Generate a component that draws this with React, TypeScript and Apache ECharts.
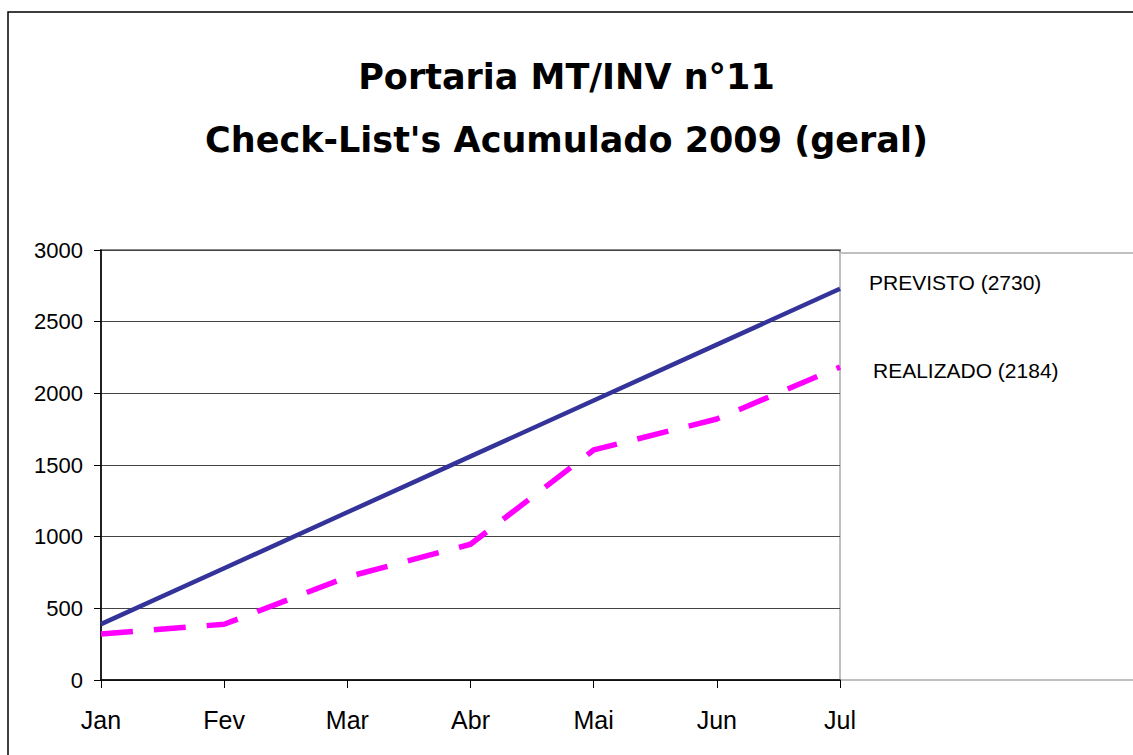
import React, { useEffect, useRef } from "react";
import * as echarts from "echarts";

const months = ["Jan", "Fev", "Mar", "Abr", "Mai", "Jun", "Jul"];
const previsto = [390, 780, 1170, 1560, 1950, 2340, 2730];
const realizado = [321, 389, 719, 947, 1605, 1821, 2184];
const yTicks = { min: 0, max: 3000, interval: 500 };
const titleLines = ["Portaria MT/INV n°11", "Check-List's Acumulado 2009 (geral)"];
const seriesNames = ["PREVISTO", "REALIZADO"];

const sans = "'Liberation Sans', Arial, sans-serif";

export default function App() {
  const ref = useRef<HTMLDivElement>(null);
  useEffect(() => {
    document.body.style.margin = "0";
    const chart = echarts.init(ref.current!, null, { renderer: "svg" });
    const last = (arr: number[]) => arr[arr.length - 1];
    chart.setOption({
      animation: false,
      backgroundColor: "#ffffff",
      title: {
        text: titleLines.join("\n"),
        left: "center",
        top: 40,
        textStyle: {
          fontFamily: "'Comic Sans MS', 'DejaVu Sans', sans-serif",
          fontWeight: "bold",
          fontSize: 35,
          lineHeight: 63,
          color: "#000",
        },
      },
      legend: [
        {
          data: [seriesNames[0]],
          left: 859,
          top: 267,
          icon: "none",
          itemWidth: 0,
          selectedMode: false,
          formatter: (n: string) => `${n} (${last(previsto)})`,
          textStyle: { fontFamily: sans, fontSize: 21, color: "#000" },
        },
        {
          data: [seriesNames[1]],
          left: 863,
          top: 355,
          icon: "none",
          itemWidth: 0,
          selectedMode: false,
          formatter: (n: string) => `${n} (${last(realizado)})`,
          textStyle: { fontFamily: sans, fontSize: 21, color: "#000" },
        },
      ],
      grid: {
        left: 101,
        right: 1133 - 840,
        top: 250,
        bottom: 755 - 680,
        show: true,
        borderColor: "#888",
        borderWidth: 2,
        backgroundColor: "#fff",
      },
      xAxis: {
        type: "category",
        data: months,
        boundaryGap: false,
        axisLine: { show: true, lineStyle: { color: "#000", width: 1.5 } },
        axisTick: { show: true, length: 8, lineStyle: { color: "#000" } },
        axisLabel: {
          fontFamily: sans,
          fontSize: 25,
          color: "#000",
          margin: 27,
        },
        splitLine: { show: false },
      },
      yAxis: {
        type: "value",
        min: yTicks.min,
        max: yTicks.max,
        interval: yTicks.interval,
        axisLine: { show: true, lineStyle: { color: "#000", width: 1.5 } },
        axisTick: { show: true, length: 7, lineStyle: { color: "#000" } },
        axisLabel: {
          fontFamily: sans,
          fontSize: 22,
          color: "#000",
          margin: 18,
          formatter: (v: number) => String(v),
        },
        splitLine: { show: true, lineStyle: { color: "#444", width: 1 } },
      },
      graphic: [
        {
          type: "rect",
          shape: { x: 8, y: 12, width: 1300, height: 900 },
          style: { fill: "none", stroke: "#000", lineWidth: 1.5 },
          silent: true,
        },
        {
          type: "rect",
          shape: { x: 840, y: 253, width: 400, height: 427 },
          style: { fill: "none", stroke: "#c0c0c0", lineWidth: 2 },
          silent: true,
        },
      ],
      series: [
        {
          name: seriesNames[0],
          type: "line",
          data: previsto,
          symbol: "none",
          lineStyle: { color: "#333399", width: 4.5 },
          itemStyle: { color: "#333399" },
          z: 3,
        },
        {
          name: seriesNames[1],
          type: "line",
          data: realizado,
          symbol: "none",
          lineStyle: { color: "#ff00ff", width: 5.5, type: [32, 21] },
          itemStyle: { color: "#ff00ff" },
          z: 2,
        },
      ],
    });
    return () => chart.dispose();
  }, []);
  return <div ref={ref} style={{ width: 1133, height: 755 }} />;
}
